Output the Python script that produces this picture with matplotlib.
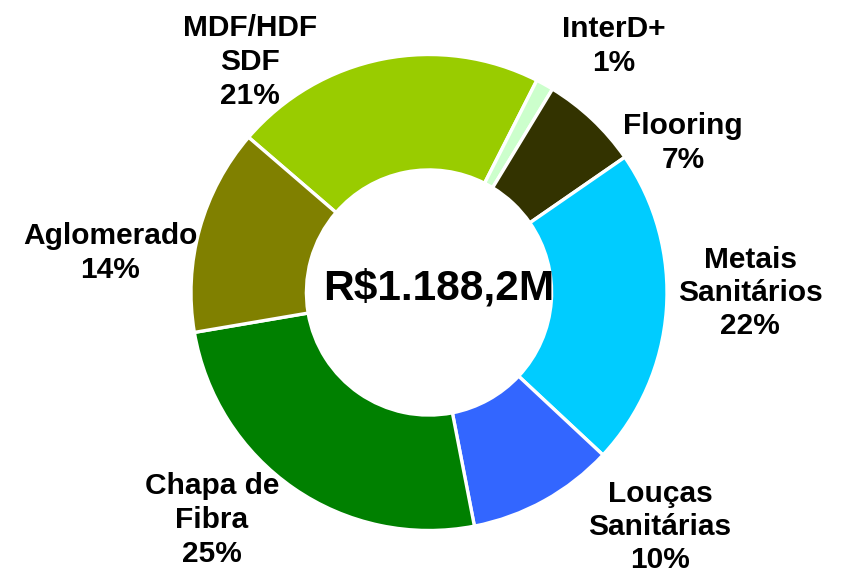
#!/usr/bin/env python
"""Donut chart of revenue split by business line."""
import matplotlib.pyplot as plt

plt.rcParams["font.family"] = ["Liberation Sans", "DejaVu Sans"]

# clockwise from the MDF/HDF slice
labels = ["MDF/HDF\nSDF", "InterD+", "Flooring", "Metais\nSanitários",
          "Louças\nSanitárias", "Chapa de\nFibra", "Aglomerado"]
shares = [21.2, 1.2, 6.7, 21.6, 10.0, 25.4, 14.0]
colors = ["#99CC00", "#CCFFCC", "#333300", "#00CCFF",
          "#3366FF", "#008000", "#808000"]
total_label = "R$1.188,2M"

# label anchor positions in pixels (x, y from top)
label_pos = [(250, 62), (614, 46), (683, 143), (750, 293),
             (660, 527), (212, 520), (110, 253)]

W, H = 847, 576
fig = plt.figure(figsize=(W / 100, H / 100), dpi=100)
ax = fig.add_axes([0, 0, 1, 1])

center = (429, H - 292.5)
radius = 238
ax.pie(
    shares,
    colors=colors,
    startangle=90 - 310.7,
    counterclock=False,
    center=center,
    radius=radius,
    wedgeprops=dict(width=radius * 0.485, edgecolor="white", linewidth=2.4),
)
ax.set_xlim(0, W)
ax.set_ylim(0, H)
ax.set_aspect("equal")
ax.axis("off")

for label, share, (px, py) in zip(labels, shares, label_pos):
    ax.text(px, H - py, f"{label}\n{share:.0f}%", ha="center", va="center",
            fontsize=21.5, fontweight="bold", linespacing=1.25)

ax.text(438.5, H - 288.5, total_label, ha="center", va="center",
        fontsize=30.5, fontweight="bold")

fig.savefig("out.png", dpi=100, facecolor="white")
